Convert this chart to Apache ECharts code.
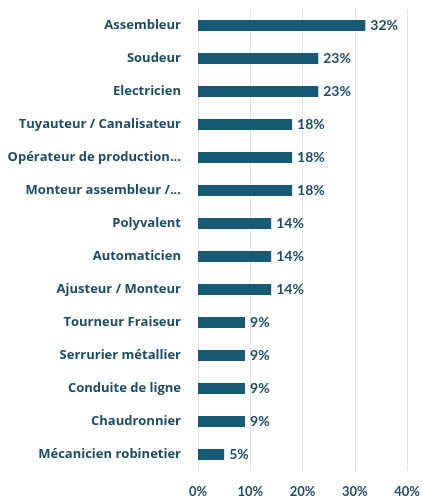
<!DOCTYPE html>
<html>
<head>
<meta charset="utf-8">
<script src="https://cdn.jsdelivr.net/npm/echarts@6/dist/echarts.min.js"></script>
<style>
  html, body { margin: 0; padding: 0; background: #fff; }
  #chart { width: 423px; height: 498px; }
</style>
</head>
<body>
<div id="chart"></div>
<script>
// metiers et parts (%)
const metiers = [
  'Assembleur', 'Soudeur', 'Electricien', 'Tuyauteur / Canalisateur',
  'Opérateur de production...', 'Monteur assembleur /...', 'Polyvalent',
  'Automaticien', 'Ajusteur / Monteur', 'Tourneur Fraiseur',
  'Serrurier métallier', 'Conduite de ligne', 'Chaudronnier', 'Mécanicien robinetier'
];
const parts = [32, 23, 23, 18, 18, 18, 14, 14, 14, 9, 9, 9, 9, 5];
const xTicks = [0, 10, 20, 30, 40];

const textColor = '#1e4d62';

const chart = echarts.init(document.getElementById('chart'));
chart.setOption({
  animation: false,
  grid: { left: 198, right: 14, top: 9, bottom: 27 },
  xAxis: {
    type: 'value',
    min: xTicks[0],
    max: xTicks[xTicks.length - 1],
    interval: 10,
    axisLine: { show: false },
    axisTick: { show: false },
    splitLine: { lineStyle: { color: '#e4e4e4', width: 1 } },
    axisLabel: {
      formatter: '{value}%',
      color: textColor,
      fontFamily: 'Lato',
      fontWeight: 'bold',
      fontSize: 13,
      margin: 14
    }
  },
  yAxis: {
    type: 'category',
    data: metiers,
    inverse: true,
    axisLine: { show: false },
    axisTick: { show: false },
    axisLabel: {
      color: textColor,
      fontFamily: 'Open Sans',
      fontWeight: 'bold',
      fontSize: 13,
      margin: 17
    }
  },
  series: [{
    type: 'bar',
    data: parts,
    barWidth: 11,
    itemStyle: { color: '#175a76' },
    label: {
      show: true,
      position: 'right',
      distance: 5,
      formatter: '{c}%',
      color: textColor,
      fontFamily: 'Lato',
      fontWeight: 'bold',
      fontSize: 14
    }
  }]
});
</script>
</body>
</html>
